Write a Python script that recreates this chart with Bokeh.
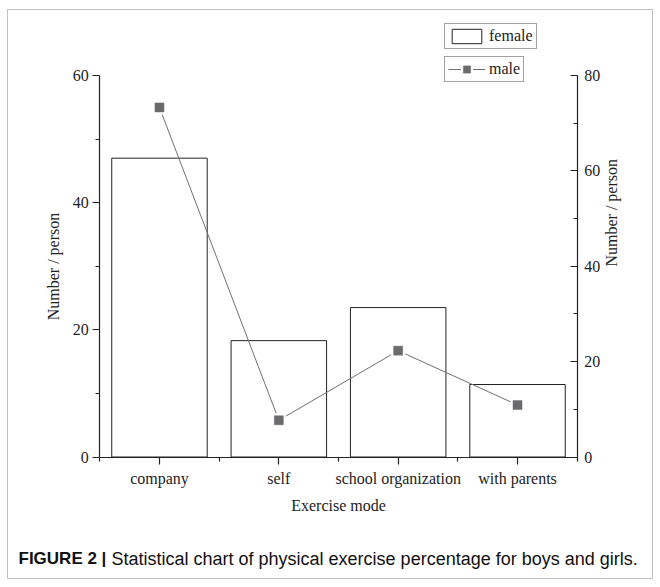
import math
from bokeh.plotting import figure
from bokeh.models import (Range1d, LinearAxis, FixedTicker, Legend, LegendItem, Label,
                          BoxAnnotation)
from bokeh.embed import file_html
from bokeh.resources import INLINE

# ---- data ----
modes = ["company", "self", "school organization", "with parents"]
female = [47.0, 18.3, 23.5, 11.4]
male = [73.3, 7.7, 22.3, 10.9]
left_ticks = [0, 20, 40, 60]
left_minor = [10, 30, 50]
right_ticks = [0, 20, 40, 60, 80]
right_minor = [10, 30, 50, 70]
caption_bold = "FIGURE 2 |"
caption_text = "Statistical chart of physical exercise percentage for boys and girls."

xs = [i + 1 for i in range(len(modes))]
x_minor = [x - 0.5 for x in xs] + [xs[-1] + 0.5]
X_LO, X_HI = xs[0] - 0.5, xs[-1] + 0.5
Y_LO, Y_HI = left_ticks[0], left_ticks[-1]
R_LO, R_HI = right_ticks[0], right_ticks[-1]

# ---- layout (pixels) ----
W, H = 660, 587
FL, FR, FT, FB = 99.3, 576.7, 75.0, 456.5   # where the plotting box sits

sx = (X_HI - X_LO) / (FR - FL)
sy = (Y_HI - Y_LO) / (FB - FT)
x_range = Range1d(X_LO - FL * sx, X_HI + (W - FR) * sx)
y_range = Range1d(Y_LO - (H - FB) * sy, Y_HI + FT * sy)
k = (R_HI - R_LO) / (Y_HI - Y_LO)
r_range = Range1d(y_range.start * k, y_range.end * k)

SERIF = "Liberation Serif"
SANS = "Liberation Sans"
INK = "#222222"

p = figure(width=W, height=H, output_backend="svg", toolbar_location=None, title=None,
           x_range=x_range, y_range=y_range,
           min_border=0, min_border_left=0, min_border_right=0,
           min_border_top=0, min_border_bottom=0)
p.extra_y_ranges = {"right": r_range}
p.outline_line_color = None
p.xgrid.visible = False
p.ygrid.visible = False
p.background_fill_color = "white"
p.border_fill_color = "white"

# outer frame of the figure panel
p.add_layout(BoxAnnotation(left=7, right=652, top=H - 9, bottom=H - 578,
                           left_units="screen", right_units="screen",
                           top_units="screen", bottom_units="screen",
                           fill_alpha=0, line_color="#333333", line_width=1))

bars = p.vbar(x=xs, top=female, width=0.8, bottom=0, fill_color="white",
              line_color=INK, line_width=1)
mline = p.line(x=xs, y=male, y_range_name="right", line_color="#707070", line_width=1)
# white halo so the connecting line stops short of each marker
mhalo = p.scatter(x=xs, y=male, y_range_name="right", marker="square", size=9,
                  fill_color="white", line_color="white", line_width=5)
mpts = p.scatter(x=xs, y=male, y_range_name="right", marker="square", size=9,
                 fill_color="#6b6b6e", line_color="#6b6b6e", line_width=0.5)

def style_axis(ax):
    ax.axis_line_color = INK
    ax.axis_line_width = 1.2
    ax.major_tick_line_color = INK
    ax.minor_tick_line_color = INK
    ax.major_tick_line_width = 1.2
    ax.minor_tick_line_width = 1.2
    ax.major_label_text_font = SERIF
    ax.major_label_text_font_size = "16px"
    ax.major_label_text_color = INK
    ax.axis_label_text_font = SERIF
    ax.axis_label_text_font_size = "16px"
    ax.axis_label_text_font_style = "normal"
    ax.axis_label_text_color = INK

# x axis
xa = p.xaxis[0]
style_axis(xa)
xa.fixed_location = Y_LO
xa.bounds = (X_LO, X_HI)
xa.ticker = FixedTicker(ticks=xs, minor_ticks=x_minor)
xa.major_label_overrides = {x: m for x, m in zip(xs, modes)}
xa.major_tick_out = 7
xa.major_tick_in = 0
xa.minor_tick_out = 4
xa.minor_tick_in = 0
xa.major_label_standoff = 6
xa.axis_label = "Exercise mode"
xa.axis_label_standoff = 6

# left axis
ya = p.yaxis[0]
style_axis(ya)
ya.fixed_location = X_LO
ya.bounds = (Y_LO, Y_HI)
ya.ticker = FixedTicker(ticks=left_ticks, minor_ticks=left_minor)
ya.major_tick_out = 7
ya.major_tick_in = 0
ya.minor_tick_out = 4
ya.minor_tick_in = 0
ya.major_label_standoff = 4
ya.axis_label = "Number / person"
ya.axis_label_standoff = 8

# right axis
ra = LinearAxis(y_range_name="right")
style_axis(ra)
ra.fixed_location = X_HI
ra.bounds = (R_LO, R_HI)
ra.ticker = FixedTicker(ticks=right_ticks, minor_ticks=right_minor)
ra.major_tick_out = 0
ra.major_tick_in = 7
ra.minor_tick_out = 0
ra.minor_tick_in = 4
ra.major_label_standoff = 7
ra.axis_label = "Number / person"
ra.axis_label_standoff = 8
if "axis_label_orientation" in LinearAxis.properties():
    ra.axis_label_orientation = math.pi / 2
p.add_layout(ra, "right")

def make_legend(items, loc):
    lg = Legend(items=items, location=loc)
    lg.label_text_font = SERIF
    lg.label_text_font_size = "16px"
    lg.label_text_color = INK
    lg.glyph_width = 37
    lg.glyph_height = 18
    lg.label_height = 18
    lg.label_standoff = 4
    lg.padding = 3
    lg.spacing = 0
    lg.margin = 0
    lg.border_line_color = "#444444"
    lg.border_line_width = 1
    lg.background_fill_alpha = 1
    return lg

p.add_layout(make_legend([LegendItem(label="female", renderers=[bars])], (444, H - 49)), "center")
p.add_layout(make_legend([LegendItem(label="male", renderers=[mline, mhalo, mpts])], (444, H - 82)), "center")

# caption
p.add_layout(Label(x=18, y=H - 558, x_units="screen", y_units="screen", text=caption_bold,
                   text_font=SANS, text_font_style="bold", text_font_size="17px",
                   text_color="#111111", text_baseline="middle"))
p.add_layout(Label(x=111, y=H - 558, x_units="screen", y_units="screen", text=caption_text,
                   text_font=SANS, text_font_size="18px", text_color="#111111",
                   text_baseline="middle"))

open("out.html", "w").write(file_html(p, INLINE))
